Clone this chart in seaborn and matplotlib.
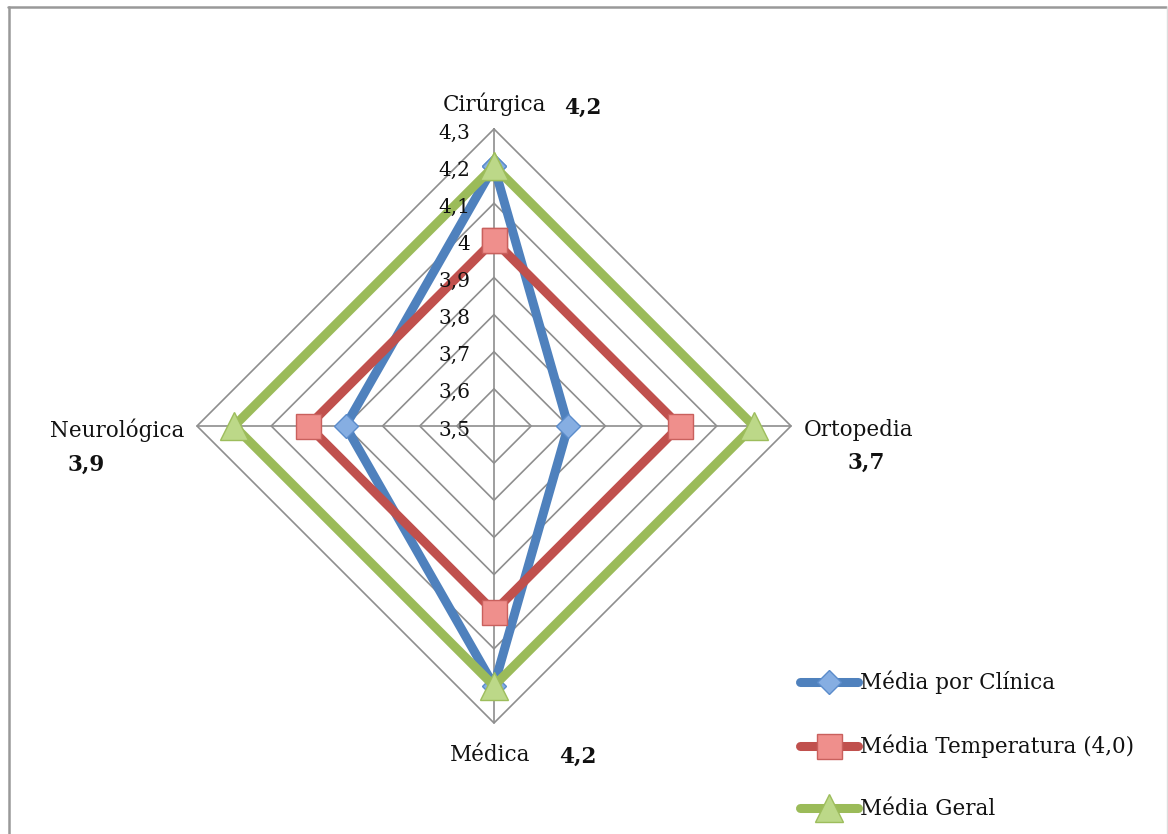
import numpy as np
import pandas as pd
import matplotlib
matplotlib.use("Agg")
import matplotlib.pyplot as plt
from matplotlib.lines import Line2D
import seaborn as sns

# --- data -------------------------------------------------------------
categorias = ["Cirúrgica", "Ortopedia", "Médica", "Neurológica"]
media_clinica = [4.2, 3.7, 4.2, 3.9]
media_temperatura = [4.0, 4.0, 4.0, 4.0]
media_geral = [4.2, 4.2, 4.2, 4.2]
nomes_series = ["Média por Clínica", "Média Temperatura (4,0)", "Média Geral"]
niveis = [3.5, 3.6, 3.7, 3.8, 3.9, 4.0, 4.1, 4.2, 4.3]
rotulos_niveis = ["3,5", "3,6", "3,7", "3,8", "3,9", "4", "4,1", "4,2", "4,3"]

# --- style ------------------------------------------------------------
sns.set_theme(style="white")
plt.rcParams["font.family"] = ["DejaVu Serif", "DejaVu Sans"]
plt.rcParams["text.color"] = "#111111"

W, H, DPI = 1168, 834, 100
fig = plt.figure(figsize=(W / DPI, H / DPI), dpi=DPI)
fig.patch.set_facecolor("white")

# polar axes placed so the chart centre/radius sit where intended
cx, cy, R = 494, 426, 297
ax = fig.add_axes([(cx - R) / W, (H - cy - R) / H, 2 * R / W, 2 * R / H],
                  projection="polar")
ax.set_theta_zero_location("N")
ax.set_theta_direction(-1)
ax.set_facecolor("none")
ax.grid(False)
ax.spines["polar"].set_visible(False)

n = len(categorias)
angulos = np.linspace(0, 2 * np.pi, n, endpoint=False)
ang_fech = np.append(angulos, 2 * np.pi)

# diamond grid rings and spokes
cor_grade = "#8e8e8e"
for nv in niveis[1:]:
    ax.plot(ang_fech, [nv] * (n + 1), color=cor_grade, lw=1.2,
            clip_on=False, zorder=1)
for a in angulos:
    ax.plot([a, a], [niveis[0], niveis[-1]], color=cor_grade, lw=1.2,
            clip_on=False, zorder=1)

# series
estilos = [
    dict(color="#4F81BD", marker="D", markersize=12.5,
         markerfacecolor="#86AEE2", markeredgecolor="#5B8CCB"),
    dict(color="#C0504D", marker="s", markersize=18,
         markerfacecolor="#EF8F8C", markeredgecolor="#C9605D"),
    dict(color="#9BBB59", marker="^", markersize=20,
         markerfacecolor="#BCD888", markeredgecolor="#9DBD5C"),
]
for nome, valores, est in zip(nomes_series,
                              [media_clinica, media_temperatura, media_geral],
                              estilos):
    df = pd.DataFrame({"theta": ang_fech,
                       "valor": list(valores) + [valores[0]]})
    sns.lineplot(data=df, x="theta", y="valor", ax=ax, sort=False,
                 estimator=None, linewidth=6.5, markeredgewidth=1.0,
                 label=nome, clip_on=False, zorder=3, **est)

ax.set_ylim(niveis[0], niveis[-1])
ax.set_xticks([])
ax.set_yticks([])
ax.set_xlabel("")
ax.set_ylabel("")
if ax.get_legend() is not None:
    ax.get_legend().remove()

# radial scale labels along the top spoke
for nv, rot in zip(niveis, rotulos_niveis):
    ax.annotate(rot, xy=(0, nv), xytext=(-24, -4), textcoords="offset pixels",
                ha="right", va="center", fontsize=14.5, color="#111111",
                annotation_clip=False, zorder=5)

# category names and the clinic-average value next to each
fs = 15.5
def fmt(v):
    return f"{v:.1f}".replace(".", ",")

pos_cat = {
    "Cirúrgica": ((0, 25), "center"),
    "Ortopedia": ((13, -4), "left"),
    "Médica": ((-4, -32), "center"),
    "Neurológica": ((-13, -4), "right"),
}
pos_val = {
    "Cirúrgica": (89, 21),
    "Ortopedia": (75, -37),
    "Médica": (84, -34),
    "Neurológica": (-111, -39),
}
for a, cat, v in zip(angulos, categorias, media_clinica):
    off, ha = pos_cat[cat]
    ax.annotate(cat, xy=(a, niveis[-1]), xytext=off, textcoords="offset pixels",
                ha=ha, va="center", fontsize=fs, color="#111111",
                annotation_clip=False)
    ax.annotate(fmt(v), xy=(a, niveis[-1]), xytext=pos_val[cat],
                textcoords="offset pixels", ha="center", va="center",
                fontsize=fs, fontweight="bold", color="#111111",
                annotation_clip=False)

# legend at lower right
handles, labels = ax.get_legend_handles_labels()
leg = fig.legend(handles, labels, loc="upper left",
                 bbox_to_anchor=(800 / W, 1 - 671 / H), frameon=False,
                 handlelength=2.7, handletextpad=0.1, labelspacing=1.86,
                 borderaxespad=0, borderpad=0, fontsize=fs, numpoints=1)
for t in leg.get_texts():
    t.set_color("#111111")

# outer chart frame
fig.add_artist(Line2D([8 / W, 1166 / W], [1 - 6.5 / H] * 2,
                      transform=fig.transFigure, color="#999999", lw=1.8))
fig.add_artist(Line2D([8.5 / W] * 2, [0, 1 - 6.5 / H],
                      transform=fig.transFigure, color="#999999", lw=1.8))
fig.add_artist(Line2D([1166.5 / W] * 2, [0, 1 - 6.5 / H],
                      transform=fig.transFigure, color="#dddddd", lw=1.0))

fig.savefig("out.png", dpi=DPI, facecolor="white")
